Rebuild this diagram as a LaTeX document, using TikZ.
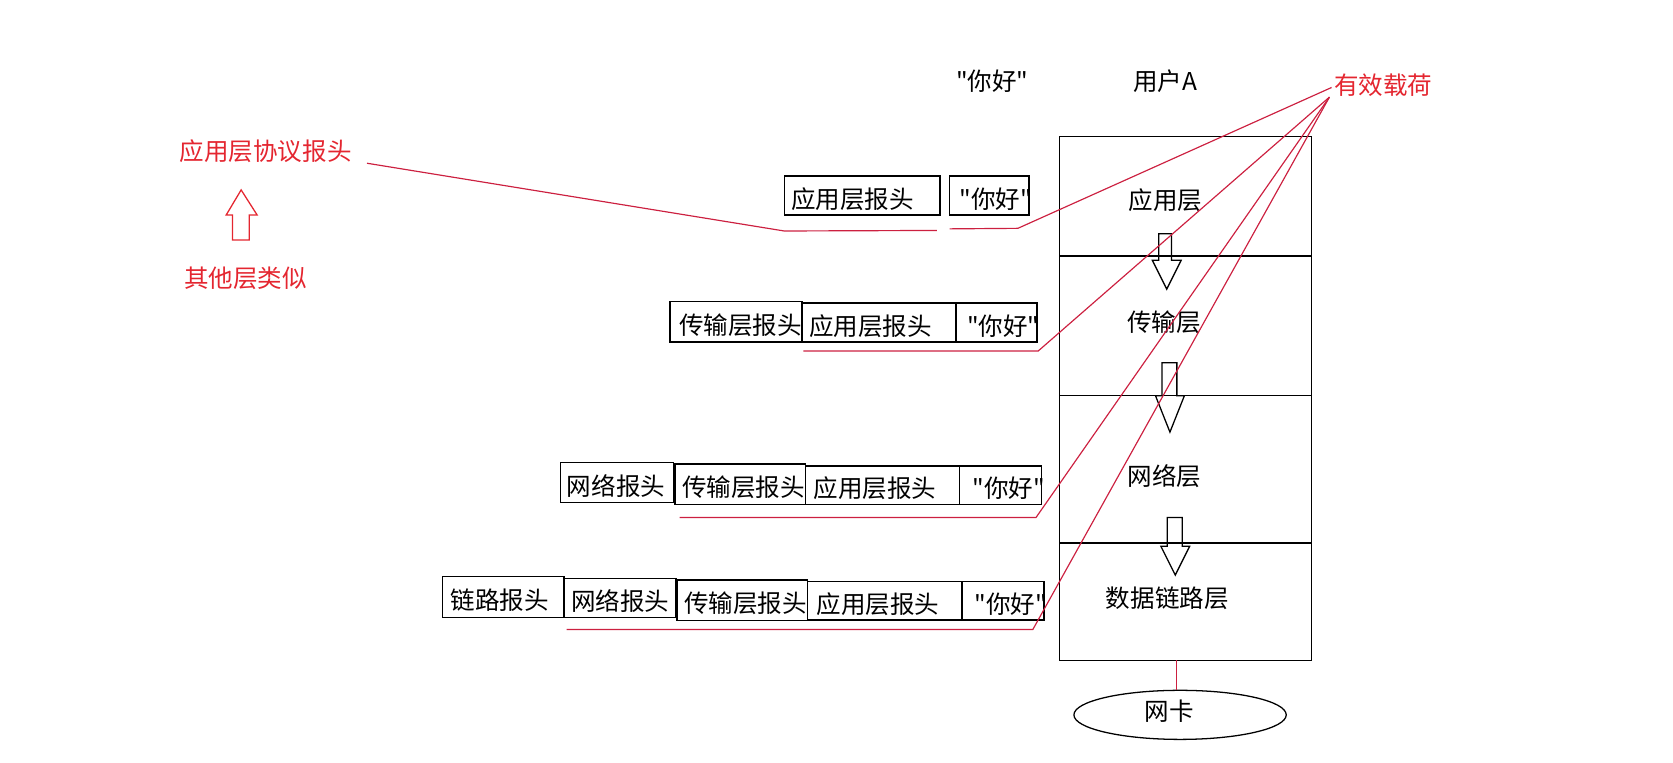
\documentclass[tikz,border=0pt]{standalone}
\usepackage{fontspec}
\setmainfont{Noto Sans CJK SC}[Ligatures=TeXOff]
\usetikzlibrary{shapes.geometric}
\definecolor{redtext}{RGB}{228,38,48}
\definecolor{redline}{RGB}{204,32,64}
\newcommand\hdrbox[7]{%
  \node[hbox, minimum width={(#4-#2)*0.5pt}, minimum height={(#5-#3)*0.5pt}] (#1) at (#2,#3) {};
  \node[txt, anchor=west] (#1t) at (#6,{(#3+#5)/2+5}) {#7};}
\begin{document}
\begin{tikzpicture}[x=0.5pt,y=-0.5pt,
  txt/.style={inner sep=0pt, font=\fontsize{11.5pt}{13pt}\selectfont, text height=0.8em, text depth=0.12em},
  rtxt/.style={txt, text=redtext},
  hbox/.style={draw=black, line width=0.6pt, inner sep=0pt, outer sep=0pt, anchor=north west},
  layer/.style={draw=black, line width=0.6pt, inner sep=0pt, outer sep=0pt, anchor=north west, minimum width=118pt},
  rline/.style={draw=redline, line width=0.55pt},
  hollow/.style={draw=black, line width=0.6pt, line join=miter},
  rhollow/.style={draw=redtext, line width=0.6pt, line join=miter}
]
\useasboundingbox (0,0) rectangle (1568,715);

% top labels
\node[txt] (hello) at (930,78) {"你好"};
\node[txt] (userA) at (1092,78) {用户A};
\node[rtxt] (payload) at (1296.5,82) {有效载荷};

% protocol stack
\node[layer, minimum height={112*0.5pt}] (Lapp) at (993,128) {};
\node[layer, minimum height={131*0.5pt}] (Ltrans) at (993,240) {};
\node[layer, minimum height={138*0.5pt}] (Lnet) at (993,371) {};
\node[layer, minimum height={110*0.5pt}] (Llink) at (993,509) {};
\node[txt] (tApp) at (1092.5,190) {应用层};
\node[txt] (tTrans) at (1091,304) {传输层};
\node[txt] (tNet) at (1091.5,448.5) {网络层};
\node[txt] (tLink) at (1094,562.5) {数据链路层};

% hollow arrows between layers
\draw[hollow] (1086,219) -- (1098,219) -- (1098,244) -- (1107,244) -- (1093.5,271) -- (1080,244) -- (1086,244) -- cycle;
\draw[hollow] (1089,340) -- (1103,340) -- (1103,371) -- (1110,371) -- (1096.5,405) -- (1083,371) -- (1089,371) -- cycle;
\draw[hollow] (1094,485) -- (1108,485) -- (1108,512) -- (1115,512) -- (1101.5,539) -- (1088,512) -- (1094,512) -- cycle;

% network card
\node[draw=black, line width=0.6pt, ellipse, inner sep=0pt, minimum width={199*0.5pt}, minimum height={46*0.5pt}] (nic) at (1106,670) {};
\node[txt] (tNic) at (1096,668.5) {网卡};
\coordinate (stackBot) at (1103,619);
\coordinate (nicTop) at (1103,647);
\draw[rline] (stackBot) -- (nicTop);

% headers, row 1
\hdrbox{r1a}{735}{165}{881}{201.5}{741}{应用层报头}
\hdrbox{r1b}{890}{165}{964.5}{201.5}{899}{"你好"}
% row 2
\hdrbox{r2a}{628}{282.7}{751.6}{320.5}{636}{传输层报头}
\hdrbox{r2b}{751.6}{284}{896}{320.5}{758}{应用层报头}
\hdrbox{r2c}{896}{284}{972}{320.5}{906}{"你好"}
% row 3
\hdrbox{r3a}{525.5}{433.6}{631}{470.7}{531}{网络报头}
\hdrbox{r3b}{632.6}{435}{754.6}{473}{639}{传输层报头}
\hdrbox{r3c}{754.6}{436.7}{899}{473}{762}{应用层报头}
\hdrbox{r3d}{899.5}{436.7}{976}{473}{911}{"你好"}
% row 4
\hdrbox{r4a}{414.5}{540}{528.5}{579}{422}{链路报头}
\hdrbox{r4b}{528.5}{542}{633.5}{579}{535}{网络报头}
\hdrbox{r4c}{634.5}{543.6}{757}{581.7}{641}{传输层报头}
\hdrbox{r4d}{757}{545}{901}{581}{765}{应用层报头}
\hdrbox{r4e}{901.5}{545}{978.5}{581}{913}{"你好"}

% red annotations on the left
\node[rtxt] (proto) at (249,144) {应用层协议报头};
\node[rtxt] (similar) at (230,263) {其他层类似};
\draw[rhollow] (218,225) -- (233.6,225) -- (233.6,201.5) -- (241,201.5) -- (226,178) -- (212,201.5) -- (218,201.5) -- cycle;

% red underline / payload lines
\coordinate (protoEnd) at (344,153);
\coordinate (pl1) at (1248,82);
\coordinate (pl2) at (1246,91);
\coordinate (u1a) at (735,216.5);
\coordinate (u1b) at (878,216);
\coordinate (u1c) at (890,214.5);
\coordinate (u1d) at (954,214);
\coordinate (u2a) at (753,329);
\coordinate (u2b) at (973,329);
\coordinate (u3a) at (637,485);
\coordinate (u3b) at (971,485);
\coordinate (u4a) at (531,590);
\coordinate (u4b) at (968,590);
\draw[rline] (protoEnd) -- (u1a) -- (u1b);
\draw[rline] (u1c) -- (u1d) -- (pl1);
\draw[rline] (u2a) -- (u2b) -- (pl2);
\draw[rline] (u3a) -- (u3b) -- (pl2);
\draw[rline] (u4a) -- (u4b) -- (pl2);
\end{tikzpicture}
\end{document}
